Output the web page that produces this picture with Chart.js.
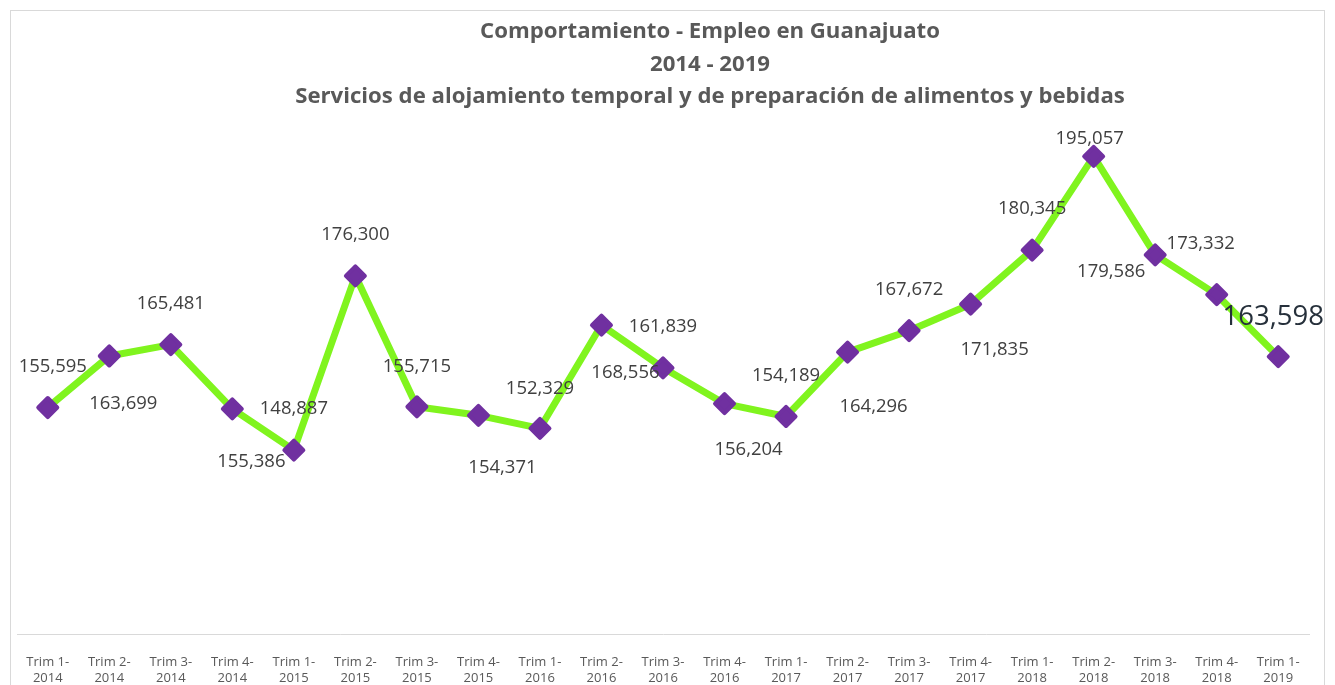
<!DOCTYPE html>
<html>
<head>
<meta charset="utf-8">
<script src="https://cdn.jsdelivr.net/npm/chart.js@4.4.1/dist/chart.umd.min.js"></script>
<style>
  html, body { margin: 0; padding: 0; background: #ffffff; }
  #wrap { width: 1335px; height: 685px; }
</style>
</head>
<body>
<div id="wrap"><canvas id="c" width="1335" height="685"></canvas></div>
<script>
// ---- Data ----
const quarters = ['Trim 1-','Trim 2-','Trim 3-','Trim 4-','Trim 1-','Trim 2-','Trim 3-','Trim 4-','Trim 1-','Trim 2-','Trim 3-','Trim 4-','Trim 1-','Trim 2-','Trim 3-','Trim 4-','Trim 1-','Trim 2-','Trim 3-','Trim 4-','Trim 1-'];
const years = ['2014','2014','2014','2014','2015','2015','2015','2015','2016','2016','2016','2016','2017','2017','2017','2017','2018','2018','2018','2018','2019'];
const values = [155595,163699,165481,155386,148887,176300,155715,154371,152329,168556,161839,156204,154189,164296,167672,171835,180345,195057,179586,173332,163598];
const titleLines = ['Comportamiento - Empleo en Guanajuato', '2014 - 2019', 'Servicios de alojamiento temporal y de preparación de alimentos y bebidas'];

// label offsets (dx, dy) relative to each point, in pixels
const labelOffsets = [[5,-41],[14,48],[0,-41],[19,53],[0,-41],[0,-41],[0,-40],[24,52],[0,-40],[24,48],[0,-41],[24,46],[0,-41],[26,55],[0,-41],[24,46],[0,-41],[-4,-18],[-44,17],[-16,-51],[-5,-39]];

const labels = quarters.map((q, i) => [q, years[i]]);
const fmt = v => v.toLocaleString('en-US');

const framePlugin = {
  id: 'frame',
  beforeDraw(chart) {
    const ctx = chart.ctx;
    ctx.save();
    ctx.fillStyle = '#ffffff';
    ctx.fillRect(0, 0, chart.width, chart.height);
    ctx.strokeStyle = '#d9d9d9';
    ctx.lineWidth = 1;
    ctx.strokeRect(10.5, 10.5, 1314, 700);
    // title
    ctx.font = 'bold 22px "Open Sans"';
    const w = ctx.measureText(titleLines[2]).width;
    const size = 22 * 830 / w;
    ctx.fillStyle = '#595959';
    ctx.font = 'bold ' + size.toFixed(2) + 'px "Open Sans"';
    ctx.textAlign = 'center';
    ctx.textBaseline = 'middle';
    const ys = [32, 65, 97];
    titleLines.forEach((t, i) => ctx.fillText(t, 710, ys[i]));
    ctx.restore();
  },
  beforeDatasetDraw(chart) {
    chart.ctx.lineJoin = 'round';
  },
  afterDatasetsDraw(chart) {
    const ctx = chart.ctx;
    const meta = chart.getDatasetMeta(0);
    ctx.save();
    ctx.textAlign = 'center';
    ctx.textBaseline = 'middle';
    meta.data.forEach((pt, i) => {
      const last = i === values.length - 1;
      ctx.font = last ? '27.5px "Open Sans"' : '18.5px "Open Sans"';
      ctx.fillStyle = last ? '#26303b' : '#404040';
      const [dx, dy] = labelOffsets[i];
      ctx.fillText(fmt(values[i]), pt.x + dx, pt.y + dy);
    });
    ctx.restore();
  }
};

new Chart(document.getElementById('c'), {
  type: 'line',
  data: {
    labels: labels,
    datasets: [{
      data: values,
      borderColor: '#80f41e',
      borderWidth: 7,
      borderCapStyle: 'round',
      borderJoinStyle: 'round',
      tension: 0,
      fill: false,
      pointStyle: 'rectRot',
      pointRadius: 9.5,
      pointHoverRadius: 9.5,
      pointBackgroundColor: '#7030a0',
      pointBorderColor: '#7030a0',
      pointBorderWidth: 4,
      clip: false
    }]
  },
  options: {
    responsive: false,
    animation: false,
    devicePixelRatio: 1,
    layout: { padding: { left: 17, right: 26, top: 125, bottom: 0 } },
    plugins: { legend: { display: false }, title: { display: false }, tooltip: { enabled: false } },
    scales: {
      y: { display: false, min: 120000, max: 200000 },
      x: {
        offset: true,
        afterFit(scale) { scale.height = 51; },
        grid: { display: true, drawOnChartArea: false, drawTicks: false, color: 'rgba(0,0,0,0)' },
        border: { display: true, color: '#d9d9d9', width: 1 },
        ticks: {
          color: '#595959',
          font: { family: 'Open Sans', size: 13, lineHeight: 1.18 },
          padding: 21,
          maxRotation: 0,
          autoSkip: false
        }
      }
    }
  },
  plugins: [framePlugin]
});
</script>
</body>
</html>
